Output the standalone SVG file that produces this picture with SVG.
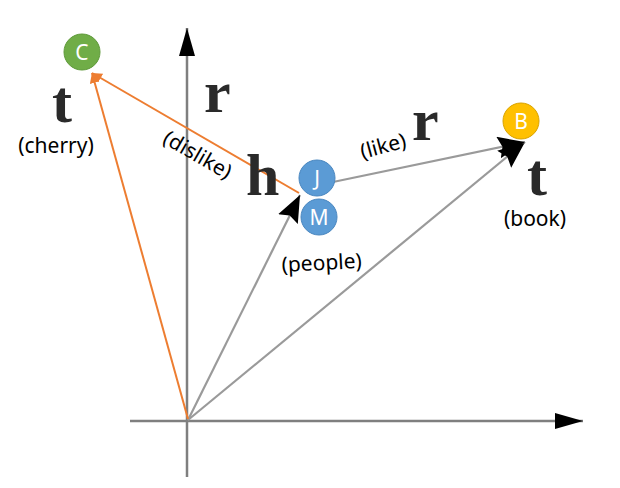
<svg xmlns="http://www.w3.org/2000/svg" width="620" height="488" viewBox="0 0 620 488">
<defs>
<style>
.axis{stroke:#7f7f7f;stroke-width:2.5;fill:none}
.vec{stroke:#9a9a9a;stroke-width:2.2;fill:none}
.or{stroke:#ed7d31;stroke-width:2;fill:none}
.math{font-family:"Liberation Serif","DejaVu Serif",serif;font-weight:bold;font-size:60px;fill:#2a2a2a}
.lbl{font-family:"Noto Sans","Noto Sans CJK KR",sans-serif;font-size:21px;fill:#000}
.nl{font-family:"Noto Sans","Noto Sans CJK KR",sans-serif;font-size:21px;fill:#fff;text-anchor:middle;dominant-baseline:central}
</style>
<marker id="big" markerUnits="userSpaceOnUse" markerWidth="30" markerHeight="26" refX="27" refY="11" orient="auto">
<path d="M0,0 L27,11 L0,22 L4,11 Z" fill="#000"/>
</marker>
<marker id="ax" markerUnits="userSpaceOnUse" markerWidth="30" markerHeight="20" refX="28" refY="8" orient="auto">
<path d="M0,0 L28,8 L0,16 Z" fill="#000"/>
</marker>
<marker id="oa" markerUnits="userSpaceOnUse" markerWidth="12" markerHeight="12" refX="10" refY="5" orient="auto">
<path d="M0,0 L10,5 L0,10 Z" fill="#ed7d31"/>
</marker>
</defs>
<rect width="620" height="488" fill="#fff"/>
<g id="axes">
<line class="axis" x1="130" y1="421" x2="583" y2="421" marker-end="url(#ax)"/>
<line class="axis" x1="187" y1="477" x2="187" y2="28" marker-end="url(#ax)"/>
</g>
<g id="connectors">
<line class="vec" x1="188" y1="420" x2="300" y2="195" marker-end="url(#big)"/>
<line class="vec" x1="188" y1="420" x2="525" y2="142" marker-end="url(#big)"/>
<line class="vec" x1="333" y1="182" x2="525" y2="142" marker-end="url(#big)"/>
<line class="or" x1="188" y1="419" x2="92" y2="73" marker-end="url(#oa)"/>
<line class="or" x1="299" y1="193" x2="92" y2="73" marker-end="url(#oa)"/>
</g>
<g id="math">
<text class="math" x="52" y="122">t</text>
<text class="math" x="204" y="112">r</text>
<text class="math" x="246" y="195">h</text>
<text class="math" x="412" y="140">r</text>
<text class="math" x="527" y="195">t</text>
</g>
<g id="labels">
<text class="lbl" x="56" y="153" text-anchor="middle">(cherry)</text>
<text class="lbl" x="0" y="0" text-anchor="middle" transform="translate(194,161) rotate(30)">(dislike)</text>
<text class="lbl" x="0" y="0" text-anchor="middle" transform="translate(385,153) rotate(-15)">(like)</text>
<text class="lbl" x="535" y="226" text-anchor="middle">(book)</text>
<text class="lbl" x="0" y="0" text-anchor="middle" transform="translate(322,270) rotate(-3)">(people)</text>
</g>
<g id="node-C">
<circle cx="82" cy="52" r="18" fill="#70ad47" stroke="#5f9a3a" stroke-width="1"/>
<text class="nl" x="82" y="52">C</text>
</g>
<g id="node-B">
<circle cx="521" cy="121" r="18" fill="#ffc000" stroke="#d9a300" stroke-width="1"/>
<text class="nl" x="521" y="121">B</text>
</g>
<g id="node-J">
<circle cx="317" cy="178" r="18" fill="#5b9bd5" stroke="#4a87c0" stroke-width="1"/>
<text class="nl" x="317" y="178">J</text>
</g>
<g id="node-M">
<circle cx="319" cy="217" r="18" fill="#5b9bd5" stroke="#4a87c0" stroke-width="1"/>
<text class="nl" x="319" y="217">M</text>
</g>
</svg>
